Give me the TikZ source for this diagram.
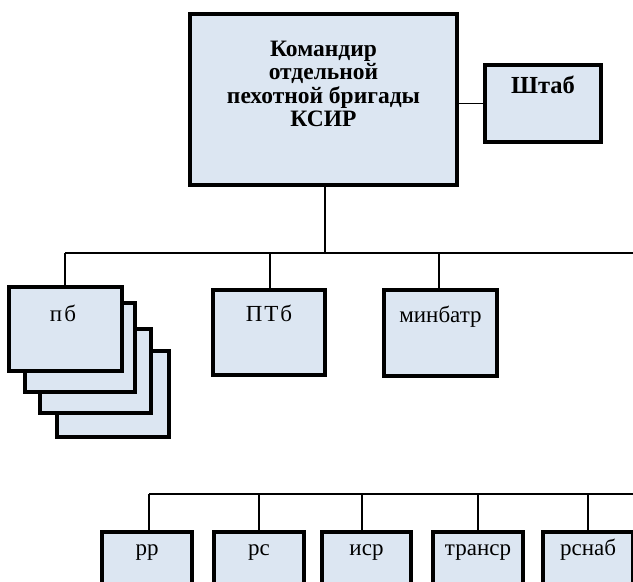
\documentclass[tikz,border=0pt]{standalone}
\usepackage{fontspec}
\setmainfont{Liberation Serif}
\definecolor{boxblue}{RGB}{220,230,242}
\tikzset{
  orgbox/.style={draw=black, line width=3.6pt, fill=boxblue, inner sep=0pt, outer sep=0pt, rectangle},
  wire/.style={draw=black, line width=1.3pt},
  lbl/.style={inner sep=0pt, font=\fontsize{23}{24}\selectfont},
  blbl/.style={inner sep=0pt, align=center, font=\fontsize{23.5}{23.5}\selectfont\bfseries}
}
\begin{document}
\begin{tikzpicture}[x=1pt,y=-1pt]
\useasboundingbox (0,0) rectangle (633,582);
\clip (0,0) rectangle (633,582);
% top
\node[orgbox, minimum width=267.5pt, minimum height=171.5pt] (cmd) at (323.5,99.5) {};
\node[blbl] (cmdt) at (323.5,84) {Командир\\отдельной\\пехотной бригады\\КСИР};
\node[orgbox, minimum width=116.5pt, minimum height=77.5pt] (hq) at (543,103.5) {};
\node[lbl, font=\fontsize{24.5}{24}\selectfont\bfseries, anchor=mid] (hqt) at (543,91) {Штаб};
\draw[wire] (hq.west) -- (hq.west -| cmd.east);
% first bus
\coordinate (busA) at (325,253);
\coordinate (busAL) at (65,253);
\coordinate (busAR) at (640,253);
\draw[wire] (cmd.south -| busA) -- (busA);
\draw[wire] (busAL) -- (busAR);
% pb stack
\node[orgbox, minimum width=112.5pt, minimum height=86.5pt] (pb4) at (113,394) {};
\node[orgbox, minimum width=111.5pt, minimum height=84.5pt] (pb3) at (95.5,371) {};
\node[orgbox, minimum width=110.5pt, minimum height=89.5pt] (pb2) at (80,347.5) {};
\node[orgbox, minimum width=113.5pt, minimum height=84.5pt] (pb) at (65.5,329) {};
\node[lbl, anchor=mid] (pbt) at (63,319) {п\kern2ptб};
\draw[wire] (busAL) -- (busAL |- pb.north);
% PTb
\node[orgbox, minimum width=112.5pt, minimum height=85.5pt] (ptb) at (269,332.5) {};
\node[lbl, anchor=mid] (ptbt) at (269,319) {П\kern2ptТ\kern2ptб};
\draw[wire] (ptb.north -| 270,0) -- (270,253);
% minbatr
\node[orgbox, minimum width=113.5pt, minimum height=86.5pt] (mb) at (440.5,333) {};
\node[lbl, anchor=mid] (mbt) at (440.5,320) {минбатр};
\draw[wire] (mb.north -| 439,0) -- (439,253);
% second bus
\coordinate (busBL) at (149,494);
\coordinate (busBR) at (640,494);
\draw[wire] (busBL) -- (busBR);
\node[orgbox, minimum width=90.5pt, minimum height=76.5pt] (rr) at (147,570) {};
\node[orgbox, minimum width=90.5pt, minimum height=76.5pt] (rs) at (259,570) {};
\node[orgbox, minimum width=89.5pt, minimum height=76.5pt] (isr) at (366.5,570) {};
\node[orgbox, minimum width=90.5pt, minimum height=76.5pt] (tr) at (478,570) {};
\node[orgbox, minimum width=90.5pt, minimum height=76.5pt] (rsn) at (588,570) {};
\node[lbl, anchor=mid] (rrt) at (147,553) {рр};
\node[lbl, anchor=mid] (rst) at (259,553) {рс};
\node[lbl, anchor=mid] (isrt) at (366.5,553) {иср};
\node[lbl, anchor=mid] (trt) at (478,553) {транср};
\node[lbl, anchor=mid] (rsnt) at (588,553) {рснаб};
\draw[wire] (busBL) -- (busBL |- rr.north);
\draw[wire] (rs.north) -- (rs.north |- busBL);
\draw[wire] (isr.north -| 362,0) -- (362,494);
\draw[wire] (tr.north) -- (tr.north |- busBL);
\draw[wire] (rsn.north) -- (rsn.north |- busBL);
\end{tikzpicture}
\end{document}
